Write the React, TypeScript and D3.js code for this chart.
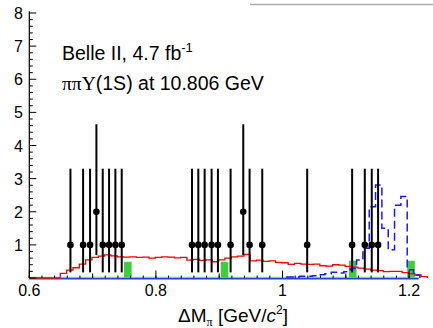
import React from "react";
import * as d3 from "d3";

const W = 433;
const H = 328;

// x-axis tick labels
const xTickValues = [0.6, 0.8, 1.0, 1.2];
const xTickLabels = ["0.6", "0.8", "1", "1.2"];
// y-axis tick labels
const yTickValues = [1, 2, 3, 4, 5, 6, 7, 8];

// data points (events)
const dataX = [0.665, 0.685, 0.696, 0.706, 0.716, 0.726, 0.736, 0.746, 0.857, 0.867, 0.877, 0.888, 0.898, 0.918, 0.938, 0.948, 0.968, 1.039, 1.110, 1.130, 1.141, 1.151];
const dataY = [1, 1, 1, 2, 1, 1, 1, 1, 1, 1, 1, 1, 1, 1, 2, 1, 1, 1, 1, 1, 1, 1];
const dataLo = [0.17, 0.17, 0.17, 0.69, 0.17, 0.17, 0.17, 0.17, 0.17, 0.17, 0.17, 0.17, 0.17, 0.17, 0.69, 0.17, 0.17, 0.17, 0.17, 0.17, 0.17, 0.17];
const dataHi = [3.3, 3.3, 3.3, 4.64, 3.3, 3.3, 3.3, 3.3, 3.3, 3.3, 3.3, 3.3, 3.3, 3.3, 4.64, 3.3, 3.3, 3.3, 3.3, 3.3, 3.3, 3.3];

// red histogram
const redStart = 0.649;
const redWidth = 0.01;
const redValues = [0.14, 0.24, 0.31, 0.42, 0.55, 0.62, 0.66, 0.70, 0.67, 0.64, 0.63, 0.64, 0.62, 0.63, 0.60, 0.62, 0.64, 0.63, 0.61, 0.62, 0.54, 0.56, 0.53, 0.55, 0.49, 0.55, 0.60, 0.64, 0.66, 0.71, 0.52, 0.54, 0.50, 0.52, 0.47, 0.46, 0.41, 0.44, 0.42, 0.41, 0.42, 0.37, 0.36, 0.40, 0.39, 0.35, 0.33, 0.30, 0.27, 0.24, 0.22, 0.19, 0.20, 0.20, 0.16, 0.13, 0.09, 0.04];

// blue dashed histogram
const blueStart = 1.007;
const blueWidth = 0.01;
const blueValues = [0.03, 0.03, 0.05, 0.05, 0.07, 0.10, 0.13, 0.17, 0.15, 0.19, 0.29, 0.54, 0.90, 2.15, 2.81, 1.50, 0.85, 2.20, 2.46, 0.25, 0.09];

// green bars
const greenLeft = [0.7497, 0.9024, 1.105, 1.197];
const greenWidth = 0.012;
const greenValues = [0.49, 0.49, 0.52, 0.52];

const xMin = 0.6;
const xMax = 1.215;

function stepPath(x: d3.ScaleLinear<number, number>, y: d3.ScaleLinear<number, number>, start: number, width: number, values: number[], from: number, to: number) {
  const pts: [number, number][] = [];
  pts.push([x(from), y(0)]);
  pts.push([x(start), y(0)]);
  values.forEach((v, i) => {
    pts.push([x(start + i * width), y(v)]);
    pts.push([x(start + (i + 1) * width), y(v)]);
  });
  const end = start + values.length * width;
  pts.push([x(end), y(0)]);
  pts.push([x(Math.max(end, to)), y(0)]);
  return d3.line()(pts) || "";
}

export default function App() {
  const x = d3.scaleLinear().domain([xMin, xMax]).range([29.3, 29.3 + (xMax - xMin) * 633]);
  const y = d3.scaleLinear().domain([0, 8]).range([278, 13]);
  const y0 = y(0);

  const minorY = d3.range(0, 8.01, 0.2);
  const minorX = d3.range(0.6, xMax + 0.0001, 0.02);
  const midX = d3.range(0.6, xMax + 0.0001, 0.1);

  const redD = stepPath(x, y, redStart, redWidth, redValues, xMin, xMax);
  const blueD = stepPath(x, y, blueStart, blueWidth, blueValues, blueStart, blueStart);

  const font = "'Liberation Sans', Arial, Helvetica, sans-serif";
  const serif = "'Liberation Serif', 'DejaVu Serif', serif";

  return (
    <svg width={W} height={H} style={{ position: "absolute", left: 0, top: 0, background: "#fff" }}>
      {/* top frame fragment */}
      <line x1={250} x2={W} y1={4.5} y2={4.5} stroke="#aaa" strokeWidth={1.5} />

      {/* green bars */}
      {greenLeft.map((g, i) => (
        <rect key={"g" + i} x={x(g)} y={y(greenValues[i])} width={x(g + greenWidth) - x(g)} height={y0 - y(greenValues[i])} fill="#3fcc3f" />
      ))}

      {/* baselines */}
      <line x1={x(xMin)} x2={x(xMax)} y1={y0 + 0.8} y2={y0 + 0.8} stroke="#2a3fd0" strokeWidth={1.4} />
      <line x1={x(xMin)} x2={x(xMax)} y1={y0 - 0.7} y2={y0 - 0.7} stroke="#5ad05a" strokeWidth={1} />

      {/* red histogram */}
      <path d={redD} fill="none" stroke="#ff0000" strokeWidth={1.3} />

      {/* blue dashed histogram */}
      <path d={blueD} fill="none" stroke="#1a1aff" strokeWidth={1.5} strokeDasharray="8,4" />

      {/* y axis */}
      <line x1={x(xMin)} x2={x(xMin)} y1={y(8.05)} y2={y0} stroke="#000" strokeWidth={1.2} />
      {minorY.map((v, i) => {
        const major = Math.abs(v - Math.round(v)) < 1e-6;
        return <line key={"yt" + i} x1={x(xMin)} x2={x(xMin) + (major ? 7 : 3.5)} y1={y(v)} y2={y(v)} stroke="#000" strokeWidth={1} />;
      })}
      {yTickValues.map((v) => (
        <text key={"yl" + v} x={23} y={y(v) + 6} textAnchor="end" fontFamily={font} fontSize={16} fill="#000">{v}</text>
      ))}

      {/* x axis ticks */}
      {minorX.map((v, i) => (
        <line key={"xm" + i} x1={x(v)} x2={x(v)} y1={y0} y2={y0 - 2.5} stroke="#000" strokeWidth={1} />
      ))}
      {midX.map((v, i) => {
        const major = Math.abs((v - 0.6) / 0.2 - Math.round((v - 0.6) / 0.2)) < 1e-6;
        return <line key={"xM" + i} x1={x(v)} x2={x(v)} y1={y0} y2={y0 - (major ? 7.5 : 4.5)} stroke="#000" strokeWidth={1} />;
      })}
      {xTickValues.map((v, i) => (
        <text key={"xl" + i} x={x(v)} y={296} textAnchor="middle" fontFamily={font} fontSize={16} fill="#000">{xTickLabels[i]}</text>
      ))}

      {/* data points */}
      {dataX.map((dx, i) => (
        <g key={"d" + i}>
          <line x1={x(dx)} x2={x(dx)} y1={y(dataHi[i])} y2={y(dataLo[i])} stroke="#000" strokeWidth={2} />
          <circle cx={x(dx)} cy={y(dataY[i])} r={3.3} fill="#000" />
        </g>
      ))}

      {/* annotations */}
      <text x={62} y={60} fontFamily={font} fontSize={19.5} fill="#000">
        Belle II, 4.7 fb<tspan dy={-8} fontSize={13}>-1</tspan>
      </text>
      <text x={62} y={90} fontFamily={font} fontSize={19.5} fill="#000">
        <tspan fontFamily={serif}>ππΥ</tspan>(1S) at 10.806 GeV
      </text>

      {/* x-axis title */}
      <text x={233} y={322} textAnchor="middle" fontFamily={font} fontSize={19} fill="#000">
        ΔM<tspan dy={4} fontSize={12} fontFamily={serif}>π</tspan>
        <tspan dy={-4}> [GeV/</tspan>
        <tspan fontStyle="italic">c</tspan>
        <tspan dy={-8} fontSize={12}>2</tspan>
        <tspan dy={8}>]</tspan>
      </text>
    </svg>
  );
}
